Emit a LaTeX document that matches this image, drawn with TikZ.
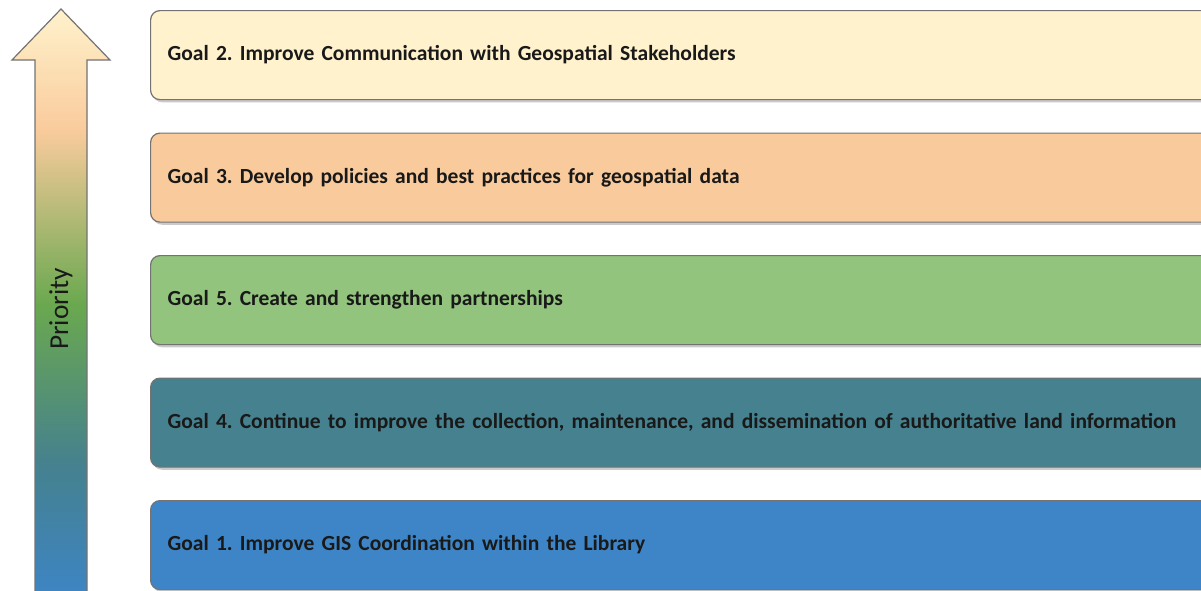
\documentclass[tikz,border=0pt]{standalone}
\usepackage{fontspec}
\setmainfont{Carlito}
\usetikzlibrary{shadows}

\definecolor{goaltwo}{HTML}{FFF2CC}
\definecolor{goalthree}{HTML}{F9CB9C}
\definecolor{goalfive}{HTML}{93C47D}
\definecolor{goalfour}{HTML}{45818E}
\definecolor{goalone}{HTML}{3D85C6}
\definecolor{prioritygreen}{HTML}{6AA84F}

\pgfdeclareverticalshading{priority}{100bp}{%
  color(0bp)=(goalone); color(25bp)=(goalone);
  color(36.5bp)=(goalfour); color(50bp)=(prioritygreen);
  color(64.7bp)=(goalthree); color(75bp)=(goaltwo); color(100bp)=(goaltwo)}

\def\boxsep{122.5}

\begin{document}
\frenchspacing
\begin{tikzpicture}[x=0.75pt,y=-0.75pt]
    \tikzstyle{goal}=[draw=black!55,line width=0.9pt,rounded corners=7pt,
        anchor=north west,minimum width=1150*0.75pt,minimum height=89*0.75pt,
        text width=1116*0.75pt,align=left,inner xsep=17*0.75pt,
        font=\fontsize{16.15}{19}\selectfont\bfseries,text=black!90,
        drop shadow={shadow xshift=1.5pt,shadow yshift=-2pt,opacity=0.35,fill=black!60}]

    \useasboundingbox (0,0) rectangle (1201,590);
    \clip (0,0) rectangle (1201,590);

    % Priority arrow
    \path[shading=priority,draw=black!55,line width=0.9pt]
        (61,9) -- (110,60) -- (87,60) -- (87,600) -- (35,600) -- (35,60) -- (12,60) -- cycle;
    \node[rotate=90,font=\fontsize{20.5}{24}\selectfont,text=black!90] (prio) at (61,309) {Priority};

    % Goals, highest priority on top
    \node[goal,fill=goaltwo] (g2) at (150,10) {Goal 2. Improve Communication with Geospatial Stakeholders};
    \node[goal,fill=goalthree] (g3) at (150,10+\boxsep) {Goal 3. Develop policies and best practices for geospatial data};
    \node[goal,fill=goalfive] (g5) at (150,10+2*\boxsep) {Goal 5. Create and strengthen partnerships};
    \node[goal,fill=goalfour] (g4) at (150,10+3*\boxsep) {Goal 4. Continue to improve the collection, maintenance, and dissemination of authoritative land information};
    \node[goal,fill=goalone] (g1) at (150,10+4*\boxsep) {Goal 1. Improve GIS Coordination within the Library};

\end{tikzpicture}
\end{document}
